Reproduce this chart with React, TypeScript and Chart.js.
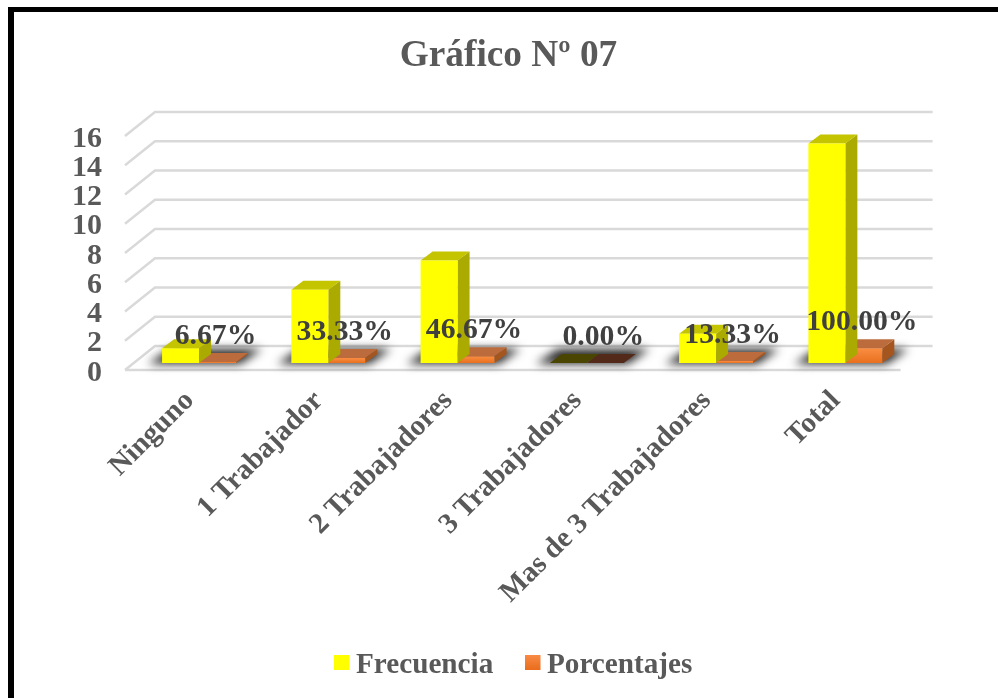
import React, { useEffect, useRef } from "react";
import { Chart, registerables } from "chart.js";

Chart.register(...registerables);

const categories = ["Ninguno", "1 Trabajador", "2 Trabajadores", "3 Trabajadores", "Mas de 3 Trabajadores", "Total"];
const frecuencia = [1, 5, 7, 0, 2, 15];
const porcentajes = [0.0667, 0.3333, 0.4667, 0, 0.1333, 1];
const percentLabels = ["6.67%", "33.33%", "46.67%", "0.00%", "13.33%", "100.00%"];
const seriesNames = ["Frecuencia", "Porcentajes"];

const SERIF = "'Liberation Serif', 'Times New Roman', serif";
const TEXT = "#595959";
const GRID = "#D9D9D9";
const NUDGE = 3; // tick digits sit above their em-box middle, so the scale runs this much lower than the marks
const BAR_SHIFT = { x: 9.4, y: -7 - NUDGE };
const DEPTH = { x: 12, y: -9 };
const WALL = { x: 30, y: -24 };

const faceColors = [
  { top: "#C4C400", side: "#AAAA00", zero: "#4A4500" },
  { top: "#BC6C3C", side: "#A5561F", zero: "#53291A" },
];

function poly(ctx: CanvasRenderingContext2D, pts: number[][], fill: string) {
  ctx.beginPath();
  pts.forEach((p, i) => (i ? ctx.lineTo(p[0], p[1]) : ctx.moveTo(p[0], p[1])));
  ctx.closePath();
  ctx.fillStyle = fill;
  ctx.fill();
}

const plugin3d = {
  id: "plugin3d",
  beforeDatasetsDraw(chart: any) {
    const { ctx, chartArea: a, scales } = chart;
    const y = scales.y;
    ctx.save();
    ctx.strokeStyle = GRID;
    ctx.lineWidth = 2.5;
    y.ticks.forEach((t: any) => {
      const py = y.getPixelForValue(t.value) - NUDGE;
      ctx.beginPath();
      ctx.moveTo(a.left, py);
      ctx.lineTo(a.left + WALL.x, py + WALL.y);
      ctx.lineTo(a.right + WALL.x + 2, py + WALL.y);
      ctx.stroke();
    });
    const y0 = y.getPixelForValue(0) - NUDGE;
    ctx.beginPath();
    ctx.moveTo(a.left, y0);
    ctx.lineTo(a.right, y0);
    ctx.stroke();

    // soft shadow under each pair of bars
    const m0 = chart.getDatasetMeta(0).data;
    const m1 = chart.getDatasetMeta(1).data;
    ctx.filter = "blur(5px)";
    m0.forEach((bar: any, i: number) => {
      const l = bar.x - bar.width / 2 + BAR_SHIFT.x;
      const r = m1[i].x + m1[i].width / 2 + BAR_SHIFT.x;
      const b = y0 - 7;
      poly(ctx, [[l - 14, b + 1], [r + 4, b + 1], [r + 26, b - 14], [l + 8, b - 14]], "#262626");
    });
    ctx.filter = "none";
    ctx.restore();

    ctx.save();
    ctx.translate(BAR_SHIFT.x, BAR_SHIFT.y);
  },
  beforeDatasetDraw(chart: any, args: any) {
    const { ctx } = chart;
    const c = faceColors[args.index];
    chart.getDatasetMeta(args.index).data.forEach((bar: any, i: number) => {
      const l = bar.x - bar.width / 2;
      const r = bar.x + bar.width / 2;
      const t = bar.y;
      const b = bar.base;
      const isZero = chart.data.datasets[args.index].data[i] === 0;
      poly(ctx, [[r, t], [r + DEPTH.x, t + DEPTH.y], [r + DEPTH.x, b + DEPTH.y], [r, b]], c.side);
      poly(ctx, [[l, t], [r, t], [r + DEPTH.x, t + DEPTH.y], [l + DEPTH.x, t + DEPTH.y]], isZero ? c.zero : c.top);
    });
  },
  afterDatasetsDraw(chart: any) {
    const { ctx } = chart;
    ctx.restore();
    ctx.save();
    ctx.font = `bold 29.7px ${SERIF}`;
    ctx.fillStyle = "#404040";
    ctx.textAlign = "center";
    ctx.textBaseline = "middle";
    chart.getDatasetMeta(1).data.forEach((bar: any, i: number) => {
      ctx.fillText(percentLabels[i], bar.x + BAR_SHIFT.x - 2, bar.y + BAR_SHIFT.y - 26);
    });
    ctx.restore();
  },
  afterDraw(chart: any) {
    const { ctx } = chart;
    const swatches = [334, 525];
    ctx.save();
    ctx.font = `bold 29.2px ${SERIF}`;
    ctx.textBaseline = "middle";
    chart.data.datasets.forEach((ds: any, i: number) => {
      const x = swatches[i];
      if (i === 0) {
        ctx.fillStyle = "#FFFF00";
      } else {
        const g = ctx.createLinearGradient(0, 655, 0, 670);
        g.addColorStop(0, "#F98A45");
        g.addColorStop(1, "#E96D1C");
        ctx.fillStyle = g;
      }
      ctx.fillRect(x, 655, 15.5, 15);
      ctx.fillStyle = TEXT;
      ctx.fillText(ds.label, x + 22, 665);
    });
    ctx.restore();
  },
};

export default function App() {
  const ref = useRef<HTMLCanvasElement>(null);
  useEffect(() => {
    const chart = new Chart(ref.current as HTMLCanvasElement, {
      type: "bar",
      data: {
        labels: categories,
        datasets: [
          {
            label: seriesNames[0],
            data: frecuencia,
            backgroundColor: "#FFFF00",
            categoryPercentage: 0.572,
            barPercentage: 1,
            clip: false,
          },
          {
            label: seriesNames[1],
            data: porcentajes,
            backgroundColor: (c: any) => {
              if (c.type !== "data" || !c.chart.chartArea) return "#F47C30";
              const s = c.chart.scales.y;
              const g = c.chart.ctx.createLinearGradient(0, s.getPixelForValue(c.raw), 0, s.getPixelForValue(0));
              g.addColorStop(0, "#FA8D42");
              g.addColorStop(1, "#E8701E");
              return g;
            },
            categoryPercentage: 0.572,
            barPercentage: 1,
            clip: false,
          },
        ],
      } as any,
      options: {
        animation: false,
        responsive: false,
        layout: { padding: { left: 19, right: 0, top: 0, bottom: 0 } },
        plugins: {
          legend: { display: false },
          tooltip: { enabled: false },
          title: {
            display: true,
            text: "Gráfico Nº 07",
            color: TEXT,
            font: { family: SERIF, size: 37.3, weight: "bold", lineHeight: 1.2 },
            padding: { top: 34, bottom: 60.2 },
          },
        },
        scales: {
          x: {
            grid: { display: false },
            border: { display: false },
            ticks: {
              color: TEXT,
              font: { family: SERIF, size: 29, weight: "bold" },
              minRotation: 45,
              maxRotation: 45,
              autoSkip: false,
              padding: 3,
            },
            afterFit: (s: any) => {
              s.height = 325;
            },
          },
          y: {
            min: 0,
            max: 16,
            grid: { display: false },
            border: { display: false },
            ticks: {
              stepSize: 2,
              autoSkip: false,
              color: TEXT,
              font: { family: SERIF, size: 30, weight: "bold" },
              padding: 15,
            },
            afterFit: (s: any) => {
              s.width = 106;
            },
          },
          spacer: {
            position: "right",
            display: true,
            grid: { display: false },
            border: { display: false },
            ticks: { display: false },
            afterFit: (s: any) => {
              s.width = 97.4;
            },
          },
        },
      } as any,
      plugins: [plugin3d],
    });
    return () => chart.destroy();
  }, []);
  return (
    <div style={{ position: "absolute", left: 0, top: 0, width: 998, height: 698, overflow: "hidden", background: "#fff" }}>
      <div style={{ position: "absolute", left: 8, top: 7, right: 0, bottom: 0, borderLeft: "6px solid #000", borderTop: "5px solid #000" }} />
      <canvas ref={ref} width={998} height={698} style={{ position: "absolute", left: 0, top: 0 }} />
    </div>
  );
}
